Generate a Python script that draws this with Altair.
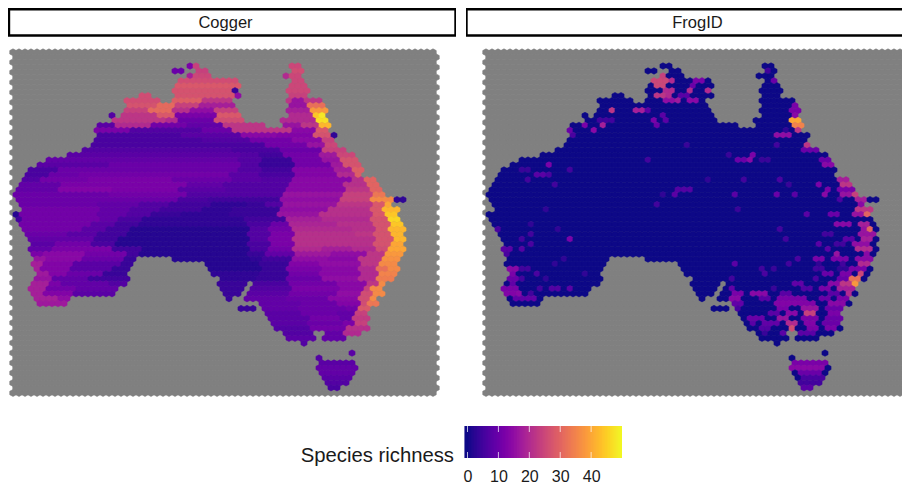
import altair as alt
import pandas as pd

alt.data_transformers.disable_max_rows()

PANELS = ["Cogger", "FrogID"]
TICKS = [0, 10, 20, 30, 40]
LEGEND_TITLE = "Species richness"

# each row: map y, then runs of (x from, x to, species richness)
COGGER_ROWS = [
 (65, [(185,190,12),(195,199,24),(291,300,25)]),
 (70, [(175,185,10),(197,207,24),(292,301,26)]),
 (75, [(185,190,18),(193,213,25),(286,291,20),(291,302,25)]),
 (80, [(180,238,26),(292,305,25)]),
 (85, [(175,238,28),(287,306,25)]),
 (90, [(174,232,27),(233,237,4),(287,307,25)]),
 (95, [(137,150,26),(173,232,27),(238,243,15),(287,307,24)]),
 (100, [(127,157,26),(172,200,29),(200,232,22),(287,295,22),(295,305,16),(305,320,22)]),
 (105, [(125,155,27),(155,175,31),(175,200,24),(200,233,18),(287,310,16),(310,325,32)]),
 (110, [(122,150,24),(150,172,31),(172,190,21),(190,215,15),(215,235,24),(287,312,18),(312,325,38)]),
 (115, [(112,117,7),(120,160,22),(160,178,28),(178,215,12),(215,240,28),(287,315,20),(315,320,44),(320,325,48)]),
 (120, [(115,165,22),(165,180,20),(180,215,10),(215,245,26),(282,316,20),(316,325,47)]),
 (125, [(97,115,8),(115,150,20),(150,190,11),(190,225,9),(225,263,22),(282,300,16),(300,318,22),(318,328,42)]),
 (130, [(97,130,12),(130,200,7),(200,235,10),(235,290,22),(290,315,14),(315,330,28)]),
 (135, [(97,180,6),(180,240,8),(240,280,14),(280,315,13),(315,328,27),(329,335,3)]),
 (140, [(95,200,6),(200,250,7),(250,290,11),(290,320,14),(320,335,24)]),
 (145, [(93,230,6),(230,265,6),(265,310,11),(310,325,16),(325,338,25)]),
 (150, [(83,235,7),(235,280,6),(280,320,10),(320,343,24)]),
 (155, [(68,240,8),(240,262,7),(262,285,5),(285,320,11),(320,335,17),(335,353,25)]),
 (160, [(45,240,9),(240,262,7),(262,290,4),(290,325,11),(325,340,16),(340,355,27)]),
 (165, [(40,110,8),(110,240,10),(240,262,7),(262,295,4),(295,330,11),(330,345,17),(345,358,27)]),
 (170, [(30,60,6),(60,240,10),(240,262,7),(262,295,5),(295,335,13),(335,350,18),(350,362,29)]),
 (175, [(24,50,6),(50,80,10),(80,230,11),(230,262,8),(262,295,6),(295,340,13),(340,355,20),(355,363,29)]),
 (180, [(20,40,7),(40,90,11),(90,170,12),(170,230,10),(230,262,8),(262,295,7),(295,350,14),(350,362,21),(362,377,30)]),
 (185, [(19,60,9),(60,190,12),(190,225,9),(225,290,7),(290,345,14),(345,365,21),(365,378,30)]),
 (190, [(15,60,9),(60,110,13),(110,180,12),(180,225,8),(225,285,7),(285,345,14),(345,370,22),(370,383,30)]),
 (195, [(16,110,10),(110,185,11),(185,225,7),(225,285,7),(285,345,16),(345,372,24),(372,387,33)]),
 (200, [(16,110,10),(110,180,10),(180,210,6),(210,280,5),(280,340,15),(340,372,24),(372,392,36),(397,403,3)]),
 (205, [(18,100,10),(100,140,9),(140,170,7),(170,210,5),(210,245,3),(245,265,4),(265,285,7),(285,340,16),(340,375,22),(375,385,28),(385,393,40)]),
 (210, [(20,100,11),(100,130,9),(130,160,7),(160,200,5),(200,230,3),(230,280,4),(280,330,15),(330,372,21),(372,385,28),(385,397,42)]),
 (215, [(10,15,2),(20,100,11),(100,125,9),(125,150,7),(150,180,4),(180,230,3),(230,280,4),(280,320,16),(320,372,21),(372,388,28),(388,398,44)]),
 (220, [(15,22,5),(22,100,11),(100,120,9),(120,145,6),(145,245,3),(245,285,5),(285,320,18),(320,370,20),(370,388,27),(388,398,46)]),
 (225, [(20,90,11),(90,115,8),(115,140,5),(140,245,3),(245,270,6),(270,290,10),(290,340,19),(340,375,21),(375,390,27),(390,400,44)]),
 (230, [(23,80,11),(80,105,8),(105,130,5),(130,250,2),(250,270,7),(270,290,11),(290,355,20),(355,375,21),(375,390,27),(390,403,42)]),
 (235, [(26,70,10),(70,100,8),(100,125,5),(125,250,2),(250,270,7),(270,295,12),(295,355,21),(355,375,22),(375,392,27),(392,403,42)]),
 (240, [(30,60,9),(60,95,9),(95,120,5),(120,250,2),(250,270,7),(270,295,12),(295,345,21),(345,375,21),(375,392,27),(392,403,42)]),
 (245, [(30,55,8),(55,90,11),(90,115,6),(115,250,2),(250,270,6),(270,295,12),(295,345,21),(345,375,21),(375,390,27),(390,403,40)]),
 (250, [(30,55,9),(55,110,12),(110,140,5),(140,250,2),(250,270,6),(270,290,11),(290,320,20),(320,350,18),(350,375,20),(375,390,26),(390,403,40)]),
 (255, [(30,45,12),(45,85,14),(85,130,11),(130,137,5),(137,250,2),(250,265,4),(265,295,9),(295,330,17),(330,365,15),(365,385,22),(385,403,38)]),
 (260, [(33,45,16),(45,80,14),(80,125,10),(125,137,4),(170,250,2),(250,265,3),(265,290,5),(290,330,15),(330,360,14),(360,385,22),(385,397,37)]),
 (265, [(33,45,18),(45,75,13),(75,120,8),(120,130,4),(203,260,2),(260,287,4),(287,320,13),(320,360,15),(360,380,22),(380,395,36)]),
 (270, [(35,42,18),(42,70,13),(70,110,8),(110,127,4),(207,260,2),(260,287,4),(287,320,12),(320,360,14),(360,378,20),(378,390,32),(390,398,36)]),
 (275, [(35,50,17),(50,65,13),(65,105,10),(105,128,4),(213,260,3),(260,287,4),(287,320,11),(320,360,14),(360,380,20),(380,398,35)]),
 (280, [(35,55,16),(55,90,9),(90,128,5),(218,255,3),(255,287,4),(287,320,10),(320,360,15),(360,378,20),(378,393,34)]),
 (285, [(33,50,18),(50,60,12),(60,110,9),(110,127,7),(217,246,4),(253,290,6),(290,335,11),(335,365,14),(365,378,22),(378,387,36)]),
 (290, [(29,48,18),(48,75,11),(75,117,9),(222,243,4),(248,290,7),(290,340,12),(340,365,14),(365,373,24),(373,383,36)]),
 (295, [(29,45,18),(45,72,13),(72,113,8),(225,238,4),(247,290,8),(290,335,11),(335,362,15),(362,372,26),(372,383,36)]),
 (300, [(32,60,18),(60,70,15),(228,233,4),(247,285,9),(285,330,10),(330,358,14),(358,368,26),(368,378,36)]),
 (305, [(40,65,17),(258,300,9),(300,340,10),(340,360,13),(360,368,26),(368,377,33)]),
 (310, [(237,254,4),(262,300,9),(300,345,10),(345,360,11),(360,370,28)]),
 (315, [(265,300,8),(300,340,10),(340,355,9),(355,368,24)]),
 (320, [(270,310,8),(310,340,11),(340,353,9),(353,368,23)]),
 (325, [(272,305,8),(305,345,10),(345,353,12),(353,368,24)]),
 (330, [(275,310,7),(310,345,11),(345,369,21)]),
 (335, [(285,315,7),(324,345,9),(345,363,20)]),
 (340, [(288,315,8),(325,345,9)]),
 (345, [(300,307,7)]),
 (355, [(350,355,8)]),
 (360, [(315,319,7)]),
 (365, [(320,353,8)]),
 (370, [(315,355,9)]),
 (375, [(322,355,9)]),
 (380, [(325,350,8)]),
 (385, [(325,348,7)]),
 (390, [(330,340,6)]),
]

# FrogID is zero wherever no run is listed; same land cells as Cogger
FROG_ROWS = [
 (70, [(292,299,5)]),
 (75, [(184,190,24)]),
 (80, [(180,194,25),(197,204,20),(222,229,12),(300,305,10)]),
 (85, [(182,194,25),(217,224,10)]),
 (90, [(189,200,20),(214,219,20),(232,237,20)]),
 (95, [(184,190,22),(194,200,20),(207,214,8)]),
 (100, [(192,200,15),(202,209,17),(217,224,14)]),
 (105, [(287,290,5),(319,325,12)]),
 (110, [(135,142,22),(160,170,18),(174,180,8),(314,325,12)]),
 (115, [(189,194,8),(319,325,14)]),
 (120, [(127,143,5),(179,184,12),(189,194,8),(319,327,40)]),
 (125, [(112,117,12),(126,132,18),(179,184,10),(319,329,35)]),
 (130, [(97,102,10),(117,122,14),(310,315,3),(320,330,22)]),
 (135, [(97,102,6),(300,320,15)]),
 (145, [(209,214,4),(300,305,5),(329,339,22)]),
 (150, [(330,344,10)]),
 (155, [(254,260,4),(277,280,12)]),
 (160, [(175,180,5),(260,272,10),(275,282,14),(287,295,4),(349,359,10)]),
 (165, [(74,79,12),(350,359,14)]),
 (170, [(49,55,4),(95,100,5)]),
 (175, [(60,70,8),(74,79,6)]),
 (180, [(55,59,5),(230,237,3),(267,272,5),(305,310,6),(364,377,18)]),
 (185, [(82,87,5),(312,315,4),(344,349,12),(367,377,22)]),
 (190, [(204,217,7),(350,357,12),(367,380,12),(380,387,24)]),
 (195, [(189,194,3),(197,204,8),(262,267,8),(300,305,10),(320,325,8),(347,354,14),(370,380,16),(382,390,24)]),
 (200, [(364,370,6),(382,392,18)]),
 (205, [(184,189,5),(384,394,14)]),
 (210, [(69,74,3),(264,268,4),(384,397,22)]),
 (215, [(330,334,8),(357,364,10),(382,392,16),(392,399,30)]),
 (225, [(54,60,3),(360,377,14),(387,394,18)]),
 (230, [(22,25,6),(84,89,3),(305,310,5),(387,394,16),(394,402,30)]),
 (235, [(54,59,5),(349,359,5),(387,400,16)]),
 (240, [(25,30,9),(45,50,5),(92,97,12),(310,315,5),(370,384,8),(390,400,18)]),
 (245, [(54,59,6),(344,349,8),(364,370,5),(380,394,15)]),
 (250, [(30,39,8),(44,50,7),(354,360,8),(384,400,20)]),
 (255, [(30,39,6),(364,369,16),(394,399,14)]),
 (260, [(87,92,3),(325,329,6),(339,349,12),(360,377,12),(384,397,14)]),
 (265, [(79,82,3),(257,262,8),(315,320,5),(344,350,3),(367,374,5),(387,397,20)]),
 (270, [(35,44,14),(47,55,5),(284,289,5),(300,305,4),(340,354,5),(364,374,3),(377,394,12)]),
 (275, [(39,45,12),(64,69,6),(112,117,3),(292,297,6),(347,359,10),(370,377,12),(384,392,25)]),
 (280, [(35,44,10),(47,54,5),(70,75,3),(254,259,5),(340,345,6),(364,374,10),(379,387,32)]),
 (285, [(35,45,9),(320,330,9),(354,365,14),(370,383,22),(377,382,38)]),
 (290, [(30,44,12),(64,69,5),(79,87,7),(92,97,8),(257,262,9),(300,305,4),(327,337,7),(347,357,12),(367,380,18)]),
 (295, [(30,40,13),(44,50,14),(55,62,5),(257,270,12),(277,295,14),(310,320,8),(357,365,8),(372,377,20)]),
 (300, [(40,64,9),(259,267,14),(289,297,8),(307,332,12),(347,357,10),(364,374,12)]),
 (305, [(257,269,9),(300,343,13),(357,370,14)]),
 (310, [(264,270,6),(304,317,12),(330,344,16),(354,367,10)]),
 (315, [(297,305,8),(314,324,14),(334,340,24),(354,367,12)]),
 (320, [(277,292,10),(307,317,16),(327,344,12),(350,367,10)]),
 (325, [(277,285,8),(292,304,9),(314,327,20),(334,342,13),(350,364,10)]),
 (330, [(287,297,7),(317,324,26),(332,344,12),(350,364,12)]),
 (335, [(289,295,4),(305,314,8),(327,344,8)]),
 (365, [(320,354,12)]),
 (370, [(317,354,14)]),
 (375, [(324,350,10)]),
 (380, [(330,350,6)]),
 (385, [(325,349,5)]),
 (390, [(330,339,8)]),
]

N_ROWS, N_COLS = 69, 71
X0, DX = 13.0, 6.0
SEA_Y0, SEA_DY = 52.3, 5.01
LAND_Y0, LAND_DY = 51.15, 4.95
HEX = "M0,-0.92L0.87,-0.46L0.87,0.46L0,0.92L-0.87,0.46L-0.87,-0.46Z"
HEX_SIZE = 50
COLOR = alt.Scale(scheme="plasma", domain=[0, 50], clamp=True)


def cell_x(row, col):
    return X0 + DX * col + (DX / 2 if row % 2 else 0)


def paint(rows):
    cells = {}
    for y, runs in rows:
        r = (y - 50) // 5
        for x0, x1, v in runs:
            cols = [c for c in range(N_COLS) if x0 <= cell_x(r, c) <= x1]
            if not cols:
                cols = [min(range(N_COLS), key=lambda c: abs(cell_x(r, c) - (x0 + x1) / 2))]
            for c in cols:
                cells[(r, c)] = v
    return cells


cogger = paint(COGGER_ROWS)
frog = {k: 0 for k in cogger}
frog.update({k: v for k, v in paint(FROG_ROWS).items() if k in cogger})


def frame(cells, y0, dy):
    return pd.DataFrame([
        {"x": cell_x(r, c), "y": y0 + dy * r, "v": v} for (r, c), v in cells.items()
    ])


sea = {(r, c): 0 for r in range(N_ROWS) for c in range(N_COLS)}


def panel(name, cells, xdom, strip, width):
    xs = alt.X("x:Q", axis=None, scale=alt.Scale(domain=xdom, nice=False, zero=False))
    ys = alt.Y("y:Q", axis=None, scale=alt.Scale(domain=[398, 8], nice=False, zero=False))
    grey = alt.Chart(frame(sea, SEA_Y0, SEA_DY)).mark_point(
        shape=HEX, filled=True, size=56, opacity=1, fill="#808080", stroke="#808080",
        strokeWidth=0.6, clip=True
    ).encode(x=xs, y=ys)
    land = alt.Chart(frame(cells, LAND_Y0, LAND_DY)).mark_point(
        shape=HEX, filled=True, size=HEX_SIZE, opacity=1, strokeWidth=0.5, clip=True
    ).encode(x=xs, y=ys,
             fill=alt.Fill("v:Q", scale=COLOR, legend=None),
             stroke=alt.Stroke("v:Q", scale=COLOR, legend=None))
    box = alt.Chart(pd.DataFrame([{"x": strip[0], "x2": strip[1], "y": 9.2, "y2": 35.5}])).mark_rect(
        fill="white", stroke="black", strokeWidth=2.4, clip=True
    ).encode(x=xs, x2="x2:Q", y=ys, y2="y2:Q")
    label = alt.Chart(pd.DataFrame([{"x": strip[2], "y": 22.5, "t": name}])).mark_text(
        font="Liberation Sans", fontSize=16.5, color="#1a1a1a", baseline="middle"
    ).encode(x=xs, y=ys, text="t:N")
    return alt.layer(grey, land, box, label).properties(width=width, height=390)


left = panel(PANELS[0], cogger, [8, 456], (9, 455.5, 225.5), 448)
right = panel(PANELS[1], frog, [-7, 429], (-6.5, 445, 224.5), 436)

ramp = pd.DataFrame([{"a": i / 2 - 1, "b": min(i / 2 - 0.2, 50), "m": i / 2 - 0.75} for i in range(102)])
xl = alt.X("a:Q", title=None, scale=alt.Scale(domain=[-148.7, 140.6], nice=False, zero=False),
           axis=alt.Axis(values=TICKS, domain=False, ticks=False, grid=False, labelFontSize=16,
                         labelFont="Liberation Sans", labelColor="#1a1a1a", labelPadding=10,
                         labelOverlap=False, labelFlush=False))
bar = alt.Chart(ramp).mark_rect().encode(
    x=xl, x2="b:Q", y=alt.value(8), y2=alt.value(40),
    color=alt.Color("m:Q", scale=COLOR, legend=None))
tick_df = pd.DataFrame({"a": TICKS})
tick_top = alt.Chart(tick_df).mark_rule(color="white", opacity=0.7).encode(
    x=alt.X("a:Q", title=None), y=alt.value(8), y2=alt.value(14))
tick_bot = alt.Chart(tick_df).mark_rule(color="white", opacity=0.7).encode(
    x=alt.X("a:Q", title=None), y=alt.value(34), y2=alt.value(40))
title = alt.Chart(pd.DataFrame({"t": [LEGEND_TITLE]})).mark_text(
    font="Liberation Sans", fontSize=20.3, color="#1a1a1a", align="right", baseline="middle"
).encode(x=alt.value(446), y=alt.value(38), text="t:N")
legend = alt.layer(bar, tick_top, tick_bot, title).properties(width=894, height=40)

chart = alt.vconcat(
    alt.hconcat(left, right, spacing=10), legend, spacing=20
).properties(padding=0, background="white").configure_view(strokeWidth=0)

chart.save("out.html", embed_options={"renderer": "svg", "actions": False})
